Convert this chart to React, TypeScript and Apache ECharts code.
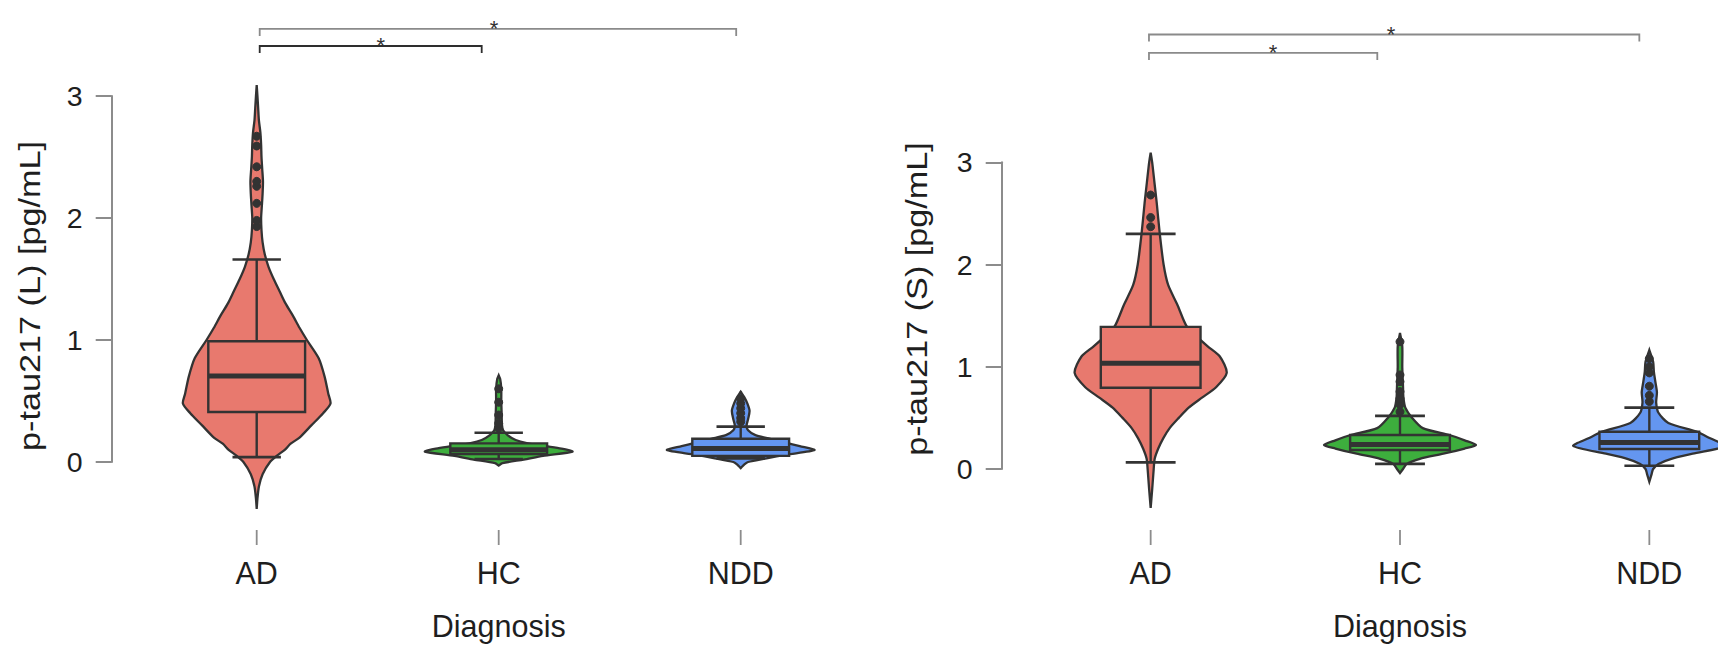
import React, { useEffect, useRef } from "react";
import * as echarts from "echarts";

// ---------- data ----------
const categories = ["AD", "HC", "NDD"];

// violin profiles: [value, relative density (1 = widest)]
const leftViolinAD = [
  [-0.385, 0], [-0.3, 0.01], [-0.2, 0.03], [-0.1, 0.08], [0, 0.18], [0.05, 0.27], [0.1, 0.38],
  [0.15, 0.46], [0.2, 0.58], [0.3, 0.74], [0.4, 0.9], [0.48, 1.0], [0.56, 0.97], [0.7, 0.92],
  [0.85, 0.84], [1.0, 0.68], [1.1, 0.58], [1.2, 0.49], [1.3, 0.39], [1.4, 0.31], [1.5, 0.23],
  [1.6, 0.16], [1.7, 0.11], [1.8, 0.08], [1.9, 0.065], [2.0, 0.06], [2.1, 0.07], [2.2, 0.08],
  [2.3, 0.085], [2.4, 0.075], [2.5, 0.065], [2.6, 0.06], [2.7, 0.05], [2.8, 0.03], [2.9, 0.02],
  [3.0, 0.01], [3.09, 0],
];
const leftViolinHC = [
  [-0.03, 0], [-0.01, 0.05], [0.02, 0.34], [0.05, 0.6], [0.085, 1.0], [0.11, 0.85], [0.13, 0.64],
  [0.155, 0.38], [0.18, 0.23], [0.22, 0.12], [0.26, 0.06], [0.3, 0.045], [0.4, 0.04], [0.5, 0.035],
  [0.6, 0.035], [0.68, 0.02], [0.71, 0],
];
const leftViolinNDD = [
  [-0.05, 0], [-0.02, 0.05], [0.0, 0.1], [0.03, 0.35], [0.06, 0.62], [0.098, 1.0], [0.13, 0.8],
  [0.16, 0.6], [0.19, 0.4], [0.22, 0.2], [0.26, 0.1], [0.3, 0.08], [0.35, 0.1], [0.42, 0.12],
  [0.48, 0.09], [0.53, 0.05], [0.576, 0],
];
const rightViolinAD = [
  [-0.38, 0], [-0.2, 0.02], [0, 0.04], [0.1, 0.053], [0.2, 0.1], [0.3, 0.165], [0.4, 0.25],
  [0.5, 0.37], [0.6, 0.5], [0.7, 0.68], [0.8, 0.86], [0.94, 1.0], [1.1, 0.91], [1.2, 0.75],
  [1.3, 0.6], [1.4, 0.47], [1.6, 0.355], [1.8, 0.23], [2.0, 0.17], [2.3, 0.12], [2.6, 0.08],
  [2.8, 0.05], [3.0, 0.02], [3.095, 0],
];
const rightViolinHC = [
  [-0.04, 0], [0.0, 0.04], [0.05, 0.09], [0.1, 0.26], [0.15, 0.57], [0.2, 0.85], [0.235, 1.0],
  [0.28, 0.85], [0.33, 0.66], [0.4, 0.3], [0.5, 0.16], [0.6, 0.07], [0.7, 0.045], [0.8, 0.04],
  [0.9, 0.035], [1.0, 0.03], [1.2, 0.03], [1.33, 0],
];
const rightViolinNDD = [
  [-0.124, 0], [-0.05, 0.03], [0.0, 0.05], [0.05, 0.12], [0.1, 0.29], [0.15, 0.57], [0.225, 1.0],
  [0.3, 0.8], [0.365, 0.62], [0.45, 0.25], [0.55, 0.12], [0.65, 0.09], [0.75, 0.1], [0.85, 0.08],
  [0.95, 0.06], [1.05, 0.05], [1.164, 0],
];

// box stats: [lower whisker, Q1, median, Q3, upper whisker]
const leftBoxes = [
  [0.04, 0.41, 0.705, 0.99, 1.66],
  [0.025, 0.065, 0.1, 0.153, 0.24],
  [0.03, 0.05, 0.11, 0.19, 0.29],
];
const rightBoxes = [
  [0.065, 0.795, 1.034, 1.39, 2.3],
  [0.05, 0.186, 0.24, 0.333, 0.52],
  [0.032, 0.196, 0.26, 0.365, 0.6],
];

// outliers
const leftOutliersAD = [1.93, 1.98, 2.12, 2.26, 2.3, 2.42, 2.59, 2.67];
const leftOutliersHC = [0.276, 0.317, 0.385, 0.49, 0.6];
const leftOutliersNDD = [0.33, 0.36, 0.4, 0.44, 0.48, 0.52];
const rightOutliersAD = [2.37, 2.46, 2.68];
const rightOutliersHC = [0.56, 0.63, 0.69, 0.757, 0.854, 0.92, 1.245];
const rightOutliersNDD = [0.66, 0.72, 0.81, 0.94, 1.0, 1.08];

// significance brackets: [from category index, to category index, height value]
const leftBrackets = [
  [0, 1, 3.41],
  [0, 2, 3.55],
];
const rightBrackets = [
  [0, 1, 4.07],
  [0, 2, 4.25],
];
const bracketLabel = "*";

const yTickMin = 0;
const yTickMax = 3;
const yTickStep = 1;

const leftTitle = "p-tau217 (L) [pg/mL]";
const rightTitle = "p-tau217 (S) [pg/mL]";
const xTitle = "Diagnosis";

// ---------- styles ----------
const FONT = "'Liberation Sans', Arial, Helvetica, sans-serif";
const OUTLINE = "#333333";
const AXIS_GRAY = "#8c8c8c";
const TEXT = "#1e1e1e";
const FILLS = ["#E8796E", "#3DAE3D", "#6496F0"];
const VIOLIN_HALF = 0.305; // fraction of band
const BOX_HALF = 0.2;
const CAP_HALF = 0.1;
const LEFT_XTICK_OFFSET = 68;
const RIGHT_XTICK_OFFSET = 61;
const XTICK_LEN = 15;

const leftBracketColors = ["#2e2e2e", "#8a8a8a"];
const rightBracketColors = ["#8a8a8a", "#8a8a8a"];
const leftBracketShift = [[3, -17], [3, -4.5]];
const rightBracketShift = [[-1.7, -22.7], [-1.7, -10]];
const leftStarShift = [10, -4];
const rightStarShift = [10, -3];

function makeViolinRender(profiles: number[][][], boxes: number[][], outliers: number[][], tickOffset: number) {
  return (params: any, api: any) => {
    const i = api.value(0);
    const band = api.size([1, 0])[0];
    const cx = api.coord([i, 0])[0];
    const yOf = (v: number) => api.coord([i, v])[1];
    const maxHalf = band * VIOLIN_HALF;
    const prof = profiles[i];
    const right = prof.map(([v, w]) => [cx + w * maxHalf, yOf(v)]);
    const left = prof.slice().reverse().map(([v, w]) => [cx - w * maxHalf, yOf(v)]);
    const pts = right.concat(left);
    const [lo, q1, med, q3, hi] = boxes[i];
    const bh = band * BOX_HALF;
    const ch = band * CAP_HALF;
    const fill = FILLS[i];
    const base = yOf(0) + tickOffset;
    const children: any[] = [
      // category axis tick
      { type: "line", shape: { x1: cx, y1: base, x2: cx, y2: base + XTICK_LEN }, style: { stroke: AXIS_GRAY, lineWidth: 1.8 } },
      {
        type: "polygon",
        shape: { points: pts, smooth: 0.25 },
        style: { fill, stroke: OUTLINE, lineWidth: 2.3 },
      },
      { type: "line", shape: { x1: cx, y1: yOf(lo), x2: cx, y2: yOf(hi) }, style: { stroke: OUTLINE, lineWidth: 2.4 } },
      { type: "line", shape: { x1: cx - ch, y1: yOf(lo), x2: cx + ch, y2: yOf(lo) }, style: { stroke: OUTLINE, lineWidth: 2.6 } },
      { type: "line", shape: { x1: cx - ch, y1: yOf(hi), x2: cx + ch, y2: yOf(hi) }, style: { stroke: OUTLINE, lineWidth: 2.6 } },
      {
        type: "rect",
        shape: { x: cx - bh, y: yOf(q3), width: 2 * bh, height: yOf(q1) - yOf(q3) },
        style: { fill, stroke: OUTLINE, lineWidth: 2.4 },
      },
      { type: "line", shape: { x1: cx - bh, y1: yOf(med), x2: cx + bh, y2: yOf(med) }, style: { stroke: OUTLINE, lineWidth: 5 } },
    ];
    outliers[i].forEach((v) => {
      children.push({
        type: "circle",
        shape: { cx, cy: yOf(v), r: 4 },
        style: { fill: OUTLINE, stroke: OUTLINE, lineWidth: 1 },
      });
    });
    return { type: "group", children };
  };
}

function makeBracketRender(shifts: number[][], colors: string[], starShift: number[]) {
  return (params: any, api: any) => {
    const k = params.dataIndex;
    const a = api.value(0);
    const b = api.value(1);
    const v = api.value(2);
    const p1 = api.coord([a, v]);
    const p2 = api.coord([b, v]);
    const y = p1[1];
    const x1 = p1[0] + shifts[k][0];
    const x2 = p2[0] + shifts[k][1];
    const drop = 7;
    return {
      type: "group",
      children: [
        {
          type: "polyline",
          shape: { points: [[x1, y + drop], [x1, y], [x2, y], [x2, y + drop]] },
          style: { stroke: colors[k], lineWidth: 1.8, fill: null },
        },
        {
          type: "text",
          x: (x1 + x2) / 2 + starShift[k],
          y: y,
          style: { text: bracketLabel, fontSize: 22, fontFamily: FONT, fill: "#333", align: "center", verticalAlign: "middle" },
        },
      ],
    };
  };
}

function xAxisCfg(gridIndex: number, offset: number) {
  return {
    gridIndex,
    type: "category",
    data: categories,
    offset,
    axisLine: { show: false },
    axisTick: { show: false },
    axisLabel: { margin: 27, fontSize: 30.5, color: TEXT, fontFamily: FONT },
    splitLine: { show: false },
    name: xTitle,
    nameLocation: "middle",
    nameGap: 80,
    nameTextStyle: { fontSize: 30.5, color: TEXT, fontFamily: FONT },
  };
}

function yAxisCfg(gridIndex: number, offset: number) {
  return {
    gridIndex,
    type: "value",
    min: yTickMin,
    max: yTickMax,
    interval: yTickStep,
    offset,
    axisLine: { show: true, lineStyle: { color: AXIS_GRAY, width: 2 } },
    axisTick: { show: true, inside: false, length: 16, lineStyle: { color: AXIS_GRAY, width: 2 } },
    axisLabel: { margin: 29, fontSize: 28.5, color: TEXT, fontFamily: FONT },
    splitLine: { show: false },
  };
}

export default function App() {
  const ref = useRef<HTMLDivElement>(null);
  useEffect(() => {
    if (!ref.current) return;
    const chart = echarts.init(ref.current, null, { renderer: "svg" });
    const catRows = categories.map((_, i) => [i, 0]);
    const option: any = {
      animation: false,
      backgroundColor: "#ffffff",
      grid: [
        { left: 135.7, top: 96, width: 726, height: 366, outerBoundsMode: "none", containLabel: false },
        { left: 1026, top: 162.3, width: 748, height: 306.7, outerBoundsMode: "none", containLabel: false },
      ],
      xAxis: [xAxisCfg(0, LEFT_XTICK_OFFSET), xAxisCfg(1, RIGHT_XTICK_OFFSET)],
      yAxis: [yAxisCfg(0, 24), yAxisCfg(1, 24.3)],
      graphic: [
        {
          type: "text",
          x: 30,
          y: 296,
          rotation: Math.PI / 2,
          scaleX: 1.18,
          style: { text: leftTitle, fontSize: 29, fontFamily: FONT, fill: TEXT, align: "center", verticalAlign: "middle" },
        },
        {
          type: "text",
          x: 917,
          y: 299,
          rotation: Math.PI / 2,
          scaleX: 1.18,
          style: { text: rightTitle, fontSize: 29, fontFamily: FONT, fill: TEXT, align: "center", verticalAlign: "middle" },
        },
      ],
      series: [
        {
          type: "custom",
          xAxisIndex: 0,
          yAxisIndex: 0,
          clip: false,
          encode: { x: 0, y: 1 },
          data: catRows,
          renderItem: makeViolinRender(
            [leftViolinAD, leftViolinHC, leftViolinNDD] as any,
            leftBoxes,
            [leftOutliersAD, leftOutliersHC, leftOutliersNDD],
            LEFT_XTICK_OFFSET
          ),
        },
        {
          type: "custom",
          xAxisIndex: 1,
          yAxisIndex: 1,
          clip: false,
          encode: { x: 0, y: 1 },
          data: catRows,
          renderItem: makeViolinRender(
            [rightViolinAD, rightViolinHC, rightViolinNDD] as any,
            rightBoxes,
            [rightOutliersAD, rightOutliersHC, rightOutliersNDD],
            RIGHT_XTICK_OFFSET
          ),
        },
        {
          type: "custom",
          xAxisIndex: 0,
          yAxisIndex: 0,
          clip: false,
          encode: { x: [0, 1], y: 2 },
          data: leftBrackets,
          renderItem: makeBracketRender(leftBracketShift, leftBracketColors, leftStarShift),
        },
        {
          type: "custom",
          xAxisIndex: 1,
          yAxisIndex: 1,
          clip: false,
          encode: { x: [0, 1], y: 2 },
          data: rightBrackets,
          renderItem: makeBracketRender(rightBracketShift, rightBracketColors, rightStarShift),
        },
      ],
    };
    chart.setOption(option);
    return () => chart.dispose();
  }, []);
  return (
    <div
      ref={ref}
      style={{ position: "fixed", left: 0, top: 0, width: 1718, height: 645, background: "#fff" }}
    />
  );
}
